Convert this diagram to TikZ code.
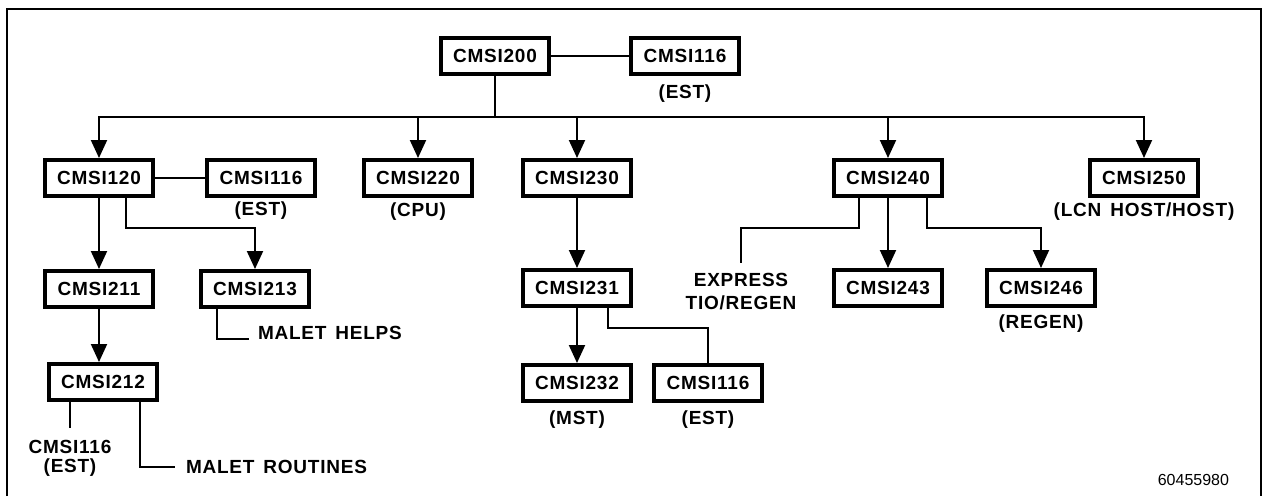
\documentclass[tikz,border=0pt]{standalone}
\usepackage{fontspec}
\setmainfont[LetterSpace=4]{Liberation Sans}
\newfontfamily\plainnum{Liberation Sans}
\usetikzlibrary{positioning,arrows.meta}
\newcommand{\wgap}{\hspace{9pt}}
\tikzstyle{mod}=   [draw,
rectangle,
line width=4pt,
minimum width=108pt,
minimum height=36pt,
inner sep=0,
font=\fontsize{19}{21}\selectfont\bfseries,
]
\tikzstyle{note}=  [inner sep=0,
align=center,
font=\fontsize{19}{23}\selectfont\bfseries,
]
\tikzstyle{arr}=   [-{Triangle[width=16pt,length=18pt]}]

\begin{document}
\begin{tikzpicture}[x=1pt,y=1pt,line width=2pt]
        \useasboundingbox (0,0) rectangle (1264,-496);
        \draw[line width=2.5pt] (7,-496) |- (1261,-9) -- (1261,-496);

        % top level
        \node[mod] (c200) at (495,-56) {CMSI200};
        \node[mod, right=78pt of c200] (e200) {CMSI116};
        \node[note, below=8pt of e200] {(EST)};

        % second row
        \node[mod] (c120) at (99,-178) {CMSI120};
        \node[mod, right=50pt of c120] (e120) {CMSI116};
        \node[note, below=3pt of e120] {(EST)};
        \node[mod, right=45pt of e120] (c220) {CMSI220};
        \node[note, below=4pt of c220] {(CPU)};
        \node[mod, right=47pt of c220] (c230) {CMSI230};
        \node[mod, right=199pt of c230] (c240) {CMSI240};
        \node[mod, right=144pt of c240] (c250) {CMSI250};
        \node[note, below=4pt of c250] {(LCN\wgap HOST/HOST)};

        % below CMSI120
        \node[mod, below=71pt of c120] (c211) {CMSI211};
        \node[mod, right=44pt of c211] (c213) {CMSI213};
        \node[mod, below=53pt of c211, xshift=4pt] (c212) {CMSI212};
        \node[note, below=37pt of c212, xshift=-33pt] (t212) {CMSI116\\[-4pt](EST)};

        % below CMSI230
        \node[mod, below=70pt of c230] (c231) {CMSI231};
        \node[mod, below=55pt of c231] (c232) {CMSI232};
        \node[note, below=7pt of c232] {(MST)};
        \node[mod, right=19pt of c232] (e231) {CMSI116};
        \node[note, below=7pt of e231] {(EST)};

        % below CMSI240
        \node[mod, below=70pt of c240] (c243) {CMSI243};
        \node[mod, right=41pt of c243] (c246) {CMSI246};
        \node[note, below=6pt of c246] {(REGEN)};
        \node[note, below=74pt of c240, xshift=-147pt] (xpr) {EXPRESS\\TIO/REGEN};

        \node[inner sep=0, anchor=base east, font=\plainnum\fontsize{16}{18}\selectfont] (num) at (1230,-485) {60455980};

        % connectors
        \draw (c200) -- (e200);
        \coordinate[below=41pt of c200.south] (bus);
        \draw (c200) -- (bus);
        \draw[arr] (bus) -| (c120);
        \draw[arr] (bus) -| (c220);
        \draw[arr] (bus) -| (c230);
        \draw[arr] (bus) -| (c240);
        \draw[arr] (bus) -| (c250);

        \draw (c120) -- (e120);
        \draw[arr] (c120) -- (c211);
        \draw[arr] ([xshift=27pt]c120.south) -- ++(0,-30pt) -| (c213);
        \draw[arr] (c211) -- (c211 |- c212.north);
        \draw ([xshift=-38pt]c213.south) |- ++(32pt,-30pt) coordinate (hlp);
        \node[note, right=8pt of hlp, yshift=6pt] {MALET\wgap HELPS};
        \draw (c212.south -| t212.north) -- ([yshift=11pt]t212.north);
        \draw ([xshift=37pt]c212.south) |- ++(35pt,-65pt) coordinate (rtn);
        \node[note, right=10pt of rtn] {MALET\wgap ROUTINES};

        \draw[arr] (c230) -- (c231);
        \draw[arr] (c231) -- (c232);
        \draw ([xshift=31pt]c231.south) -- ++(0,-20pt) -| (e231);

        \draw ([xshift=-29pt]c240.south) -- ++(0,-30pt) -| ([yshift=9pt]xpr.north);
        \draw[arr] (c240) -- (c243);
        \draw[arr] ([xshift=39pt]c240.south) -- ++(0,-30pt) -| (c246);
\end{tikzpicture}
\end{document}
